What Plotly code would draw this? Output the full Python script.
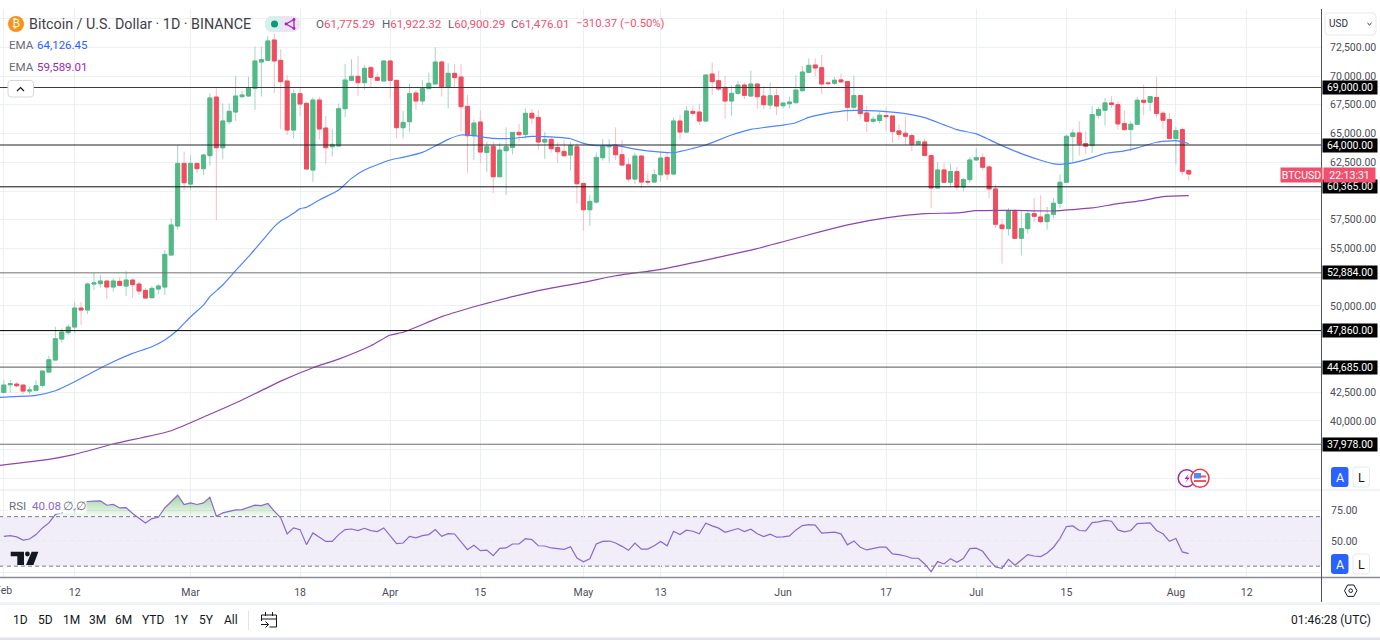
import pandas as pd
import plotly.graph_objects as go

W, H = 1380, 640
FONT = "Roboto, Arial, sans-serif"
GRID = "#eaf0f4"

start_date = "2024-02-01"
opens = [
 42484,43151,43209,43122,42600,42658,43093,44253,45297,47124,47675,48168,49821,49647,51909,51938,52170,51648,52141,51735,52257,51909,51358,50720,51474,51648,54432,56950,62400,
 60600,62400,61940,63070,68170,63760,66027,66868,68202,68260,68927,71218,71363,73132,71363,69565,65302,68463,67622,61822,67912,65476,63852,63910,67158,69623,69971,69420,70725,69884,69565,
 71305,69623,65505,66027,68521,67825,68898,69304,71218,69043,70232,69911,67359,64807,65996,63357,63879,61240,63502,63792,65097,64923,66750,66402,64256,64488,63792,63444,63125,63850,
 60660,58369,59036,62893,63850,63995,63154,62284,61037,63038,60834,60776,61414,62922,61472,66083,65126,66924,66866,66083,70172,69592,69012,67823,68490,69215,68258,69302,68258,67475,68287,
 67417,67591,67678,68722,70317,70955,70723,69400,69371,69661,69516,67283,68298,66790,66065,66123,66558,66529,65224,65021,64818,64064,64267,63078,60265,61831,60758,61686,60352,60990,
 62701,62904,62092,60178,57046,56727,58293,55886,56727,58032,57742,57336,57974,58931,60758,64731,65050,64122,63948,66587,67022,67660,67515,65862,65340,65804,67892,67718,68124,66761,66210,
 64557,65340,61775.29]
highs = [
 43557,43557,43412,43200,43000,43557,44340,45674,48197,48052,48429,50343,50343,52025,52895,52692,52170,52402,52489,53069,52373,52100,51590,51735,51909,54867,57622,64000,63420,
 63100,62400,63230,68490,68930,67620,67622,70000,68700,69942,72552,72552,73480,73712,72320,70087,68840,68927,67767,68144,68202,66520,65360,67622,71044,71450,71740,70957,70899,70290,71305,
 71305,69623,66984,69304,68782,69652,70290,72494,71334,71102,71044,71042,68345,66228,67040,64285,64285,64198,65532,65097,65822,67185,67127,67040,65155,64662,64285,64430,64285,64140,
 60660,59645,63328,64517,64517,65532,64430,62835,63328,63038,61530,61878,63415,63328,66373,66605,67388,67417,67620,70085,71158,70462,69998,69128,69592,69418,70462,69418,69128,69418,68925,
 67680,68200,70085,70868,71535,71535,71825,69540,69922,70212,69516,70038,68385,67428,66500,66848,67225,66529,65775,66442,64992,64470,64528,63078,62498,62440,62382,62092,61135,62962,
 63745,63252,62295,60555,57568,58525,58438,58235,58235,59395,59627,58612,59395,61425,64905,65398,66065,65195,67370,67312,68095,68240,67805,67022,66065,68182,69255,68211,69922,66964,66790,
 65572,65514,61922.32]
lows = [
 42397,42455,42890,42339,42339,42600,42890,44253,45297,46805,47530,47617,48342,49299,51387,51590,50604,51242,51793,50865,50720,50952,50633,50633,51040,50952,54432,56600,60080,
 60080,61530,61390,62200,57470,62780,65800,66085,68100,68200,67042,68202,71363,68492,65360,64867,64577,66520,61909,60807,64490,62315,62982,63910,66404,69600,68260,68840,69014,69560,69565,
 68028,64577,64577,65157,67042,67477,68840,69304,68202,67187,69014,65155,61588,62690,62400,61675,59790,61180,59645,63183,64285,64575,65793,63560,62777,63328,62458,63000,61762,58920,
 56542,56977,58920,62632,62500,62690,62168,60805,60602,60225,60515,60740,60805,60950,61385,64488,65060,66518,65735,66025,68345,68722,66315,66547,68345,67997,68200,67127,67098,67098,66605,
 67185,67185,67620,68640,70230,69998,68432,69200,69226,69400,66065,67138,66297,65108,65862,65862,65195,64180,64470,64035,63455,64035,63078,58525,60265,60700,60352,60062,59975,60700,
 62640,61802,59395,56785,53682,56118,55886,54407,56292,57278,57162,56640,57626,58496,60700,62440,63078,63252,63310,66300,65688,67225,65340,65195,63455,65746,66587,66935,66355,65340,64528,
 62295,61338,60900.29]
closes = [
 43122,43238,43064,42600,42687,43064,44340,45326,47153,47733,48168,49821,49647,51909,51996,52170,51648,52170,51793,52257,51851,51300,50691,51532,51735,54490,57042,62400,60720,
 62400,61940,63130,68090,63760,66090,66926,68260,68347,68956,71305,71421,73045,71305,69507,65302,68463,67564,61909,67912,65389,63765,64055,67158,69652,69971,69420,70667,69884,69623,71305,
 69623,65505,65969,68463,67825,68898,69362,71218,69072,70232,69855,67330,64807,65909,63386,63850,61240,63560,63850,65097,64894,66750,66344,64256,64488,63676,63415,63067,63937,60631,
 58369,59094,62922,63908,63937,63154,62255,61037,63038,60776,60776,61414,62864,61472,66083,65126,66953,66750,66083,70085,69505,68867,67823,68490,69215,68316,69302,68200,67504,68287,67388,
 67649,67736,68780,70346,70926,70694,69302,69342,69632,69487,67283,68298,66732,66065,66239,66587,66471,65166,64934,64760,64064,64296,63078,60265,61831,60758,61686,60352,60990,62701,
 62904,62063,60178,57104,56727,58264,55886,56727,58032,57800,57336,57945,58931,60758,64760,65050,64093,63890,66645,67080,67660,67515,65833,65340,65804,67892,67718,68211,66732,66152,64557,
 65253,61715,61476.01]

ema50_dates = ["2024-01-31","2024-02-01","2024-02-06","2024-02-09","2024-02-12","2024-02-15","2024-02-18","2024-02-21","2024-02-24","2024-02-26","2024-02-28",
 "2024-03-01","2024-03-03","2024-03-04","2024-03-06","2024-03-08","2024-03-10","2024-03-12","2024-03-14","2024-03-15","2024-03-17","2024-03-18","2024-03-19","2024-03-21","2024-03-24","2024-03-26","2024-03-28",
 "2024-04-01","2024-04-03","2024-04-06","2024-04-08","2024-04-10","2024-04-12","2024-04-14","2024-04-17","2024-04-20","2024-04-23","2024-04-27","2024-04-29",
 "2024-05-01","2024-05-03","2024-05-06","2024-05-09","2024-05-13","2024-05-15","2024-05-18","2024-05-20","2024-05-24","2024-05-27",
 "2024-06-01","2024-06-03","2024-06-05","2024-06-08","2024-06-11","2024-06-14","2024-06-17","2024-06-20","2024-06-23","2024-06-26","2024-06-28",
 "2024-07-01","2024-07-03","2024-07-05","2024-07-08","2024-07-11","2024-07-13","2024-07-15","2024-07-18","2024-07-21","2024-07-24","2024-07-26","2024-07-29",
 "2024-08-01","2024-08-03"]
ema50_values = [42049,42078,42223,42629,43412,44311,45152,45877,46457,47037,47907,
 49067,50082,50807,51822,53069,54287,55592,56897,57390,58057,58463,58579,59217,60082,61097,61822,
 62692,62924,63359,63910,64490,64867,64807,64575,64575,64749,64662,64546,
 64140,63937,63966,63647,63386,63328,63705,63995,64865,65358,
 65735,65938,66402,66770,66993,66993,66906,66732,66384,65746,65340,
 64963,64470,63948,63252,62672,62353,62353,62730,63252,63484,63745,64238,
 64383,64126.45]

ema200_dates = ["2024-01-31","2024-02-08","2024-02-12","2024-02-18","2024-02-27","2024-03-04","2024-03-09","2024-03-15","2024-03-20","2024-03-24","2024-03-29",
 "2024-04-01","2024-04-03","2024-04-09","2024-04-15","2024-04-20","2024-04-25","2024-05-01","2024-05-06","2024-05-13","2024-05-20","2024-05-27",
 "2024-06-01","2024-06-07","2024-06-12","2024-06-17","2024-06-23","2024-06-28","2024-07-01","2024-07-06","2024-07-13","2024-07-16","2024-07-19","2024-07-23","2024-07-27","2024-07-30","2024-08-03"]
ema200_values = [36115,36665,37100,38000,39155,40580,41825,43470,44630,45384,46544,
 47472,47712,49070,50087,50810,51450,52060,52630,53190,53990,54860,
 55585,56495,57162,57655,58032,58090,58293,58322,58264,58380,58525,58902,59192,59511,59589.01]

rsi_values = [54.1,54.6,53.6,51.1,51.9,55.5,60.9,64.9,71.7,73,74.4,75.7,80.6,82.2,82.5,82.7,79.2,79.8,77,77.3,72.5,69,64.9,68.4,69.5,77,82.5,87.3,79.8,
 81.1,79.8,81.1,85.7,70.3,73,74.4,75.4,75.7,77.3,79.2,78.9,80.6,74.4,69,56,60.9,59.5,47.4,56.8,53.6,50,50,55.5,59.5,60,58.7,60.6,58.7,57.9,60.9,
 54.9,48.2,48.7,54.1,52.8,54.6,55.5,59.5,54.1,56.3,56,49.5,43.3,46.8,42.5,43,38.4,44.4,44.7,47.9,47.9,52.2,51.4,46.5,46.3,44.7,44.1,43.6,45.7,36.6,
 33.6,36,47.9,50,50.3,48.7,46,42.8,48.7,43.8,43.8,46.5,50,46.5,58.2,55.5,59,58.2,56.1,64.7,62.5,60.7,57.4,59,60.4,58,59.8,56.1,53.9,55.8,53.4,53.6,54.4,
 59.3,62.8,63.6,63.1,56.6,56.9,57.4,56.1,47.2,50.4,45.3,43.1,43.9,45.3,45.3,39.9,39.3,38.2,36.4,36.4,31.8,25.6,33.7,31.8,36.1,33.1,36.1,44.2,
 44.5,42,35,29.3,28.3,35.5,30.7,34.7,39.3,38.2,37.7,40.7,45.3,52.3,62,62.5,58.8,58.5,65.2,65.8,66.9,66.3,59.3,57.7,58.8,64.4,64.4,65,58.8,56.1,50.1,
 52.3,41.5,40.08]

levels = [69000, 64000, 60365, 52884, 47860, 44685, 37978]
level_labels = ["69,000.00", "64,000.00", "60,365.00", "52,884.00", "47,860.00", "44,685.00", "37,978.00"]
level_colors = ["#3c3c3c", "#222222", "#111111", "#707070", "#000000", "#555555", "#707070"]

price_ticks = [35000, 37500, 40000, 42500, 45000, 47500, 50000, 52500, 55000, 57500, 60000, 62500, 65000, 67500, 70000, 72500, 75000]
price_tick_text = ["", "", "40,000.00", "42,500.00", "", "", "50,000.00", "", "55,000.00", "57,500.00", "", "62,500.00", "65,000.00", "67,500.00", "70,000.00", "72,500.00", ""]
rsi_ticks = [25, 50, 75]
rsi_tick_text = ["", "50.00", "75.00"]
date_ticks = ["2024-02-01","2024-02-12","2024-03-01","2024-03-18","2024-04-01","2024-04-15","2024-05-01","2024-05-13","2024-06-01","2024-06-17","2024-07-01","2024-07-15","2024-08-01","2024-08-12"]
date_tick_text = ["","12","Mar","18","Apr","15","May","13","Jun","17","Jul","15","Aug","12"]

assert len(opens) == len(highs) == len(lows) == len(closes) == len(rsi_values) == 185
dates = pd.date_range(start_date, periods=len(opens), freq="D")

def px(x): return x / W
def py(y): return 1 - y / H

shapes, annos = [], []

def rect(x0, y0, x1, y1, fill="rgba(0,0,0,0)", line=None, lw=1):
    shapes.append(dict(type="rect", xref="paper", yref="paper", x0=px(x0), x1=px(x1), y0=py(y0), y1=py(y1),
                       fillcolor=fill, line=dict(color=line or "rgba(0,0,0,0)", width=lw if line else 0), layer="above"))

def path(points, fill=None, line=None, lw=1, close=False):
    d = "M" + " L".join(f"{px(a):.5f},{py(b):.5f}" for a, b in points) + (" Z" if close else "")
    shapes.append(dict(type="path", xref="paper", yref="paper", path=d, fillcolor=fill or "rgba(0,0,0,0)",
                       line=dict(color=line or "rgba(0,0,0,0)", width=lw if line else 0), layer="above"))

def rrect(x0, y0, x1, y1, r, fill=None, line=None, lw=1):
    a0, b0, a1, b1 = px(x0), py(y0), px(x1), py(y1)
    rx, ry = r / W, r / H
    d = (f"M{a0+rx:.5f},{b0:.5f} L{a1-rx:.5f},{b0:.5f} Q{a1:.5f},{b0:.5f} {a1:.5f},{b0-ry:.5f} "
         f"L{a1:.5f},{b1+ry:.5f} Q{a1:.5f},{b1:.5f} {a1-rx:.5f},{b1:.5f} L{a0+rx:.5f},{b1:.5f} "
         f"Q{a0:.5f},{b1:.5f} {a0:.5f},{b1+ry:.5f} L{a0:.5f},{b0-ry:.5f} Q{a0:.5f},{b0:.5f} {a0+rx:.5f},{b0:.5f} Z")
    shapes.append(dict(type="path", xref="paper", yref="paper", path=d, fillcolor=fill or "rgba(0,0,0,0)",
                       line=dict(color=line or "rgba(0,0,0,0)", width=lw if line else 0), layer="above"))

def circle(cx, cy, r, fill="rgba(0,0,0,0)", line=None, lw=1):
    shapes.append(dict(type="circle", xref="paper", yref="paper", x0=px(cx - r), x1=px(cx + r), y0=py(cy + r), y1=py(cy - r),
                       fillcolor=fill, line=dict(color=line or "rgba(0,0,0,0)", width=lw if line else 0), layer="above"))

def txt(x, y, s, size=11, color="#131722", anchor="left", **kw):
    annos.append(dict(xref="paper", yref="paper", x=px(x), y=py(y), text=s, showarrow=False, xanchor=anchor, yanchor="middle",
                      font=dict(family=FONT, size=size, color=color), borderpad=0, **kw))

fig = go.Figure()
# pale wicks underneath, solid bodies on top
fig.add_trace(go.Candlestick(x=dates, open=opens, high=highs, low=lows, close=closes, yaxis="y", xaxis="x",
    increasing=dict(line=dict(color="#a5d3c4", width=1), fillcolor="#53b987"),
    decreasing=dict(line=dict(color="#f7bcc3", width=1), fillcolor="#ee4e5f"),
    whiskerwidth=0, showlegend=False))
body_hi = [max(a, b) for a, b in zip(opens, closes)]
body_lo = [min(a, b) for a, b in zip(opens, closes)]
fig.add_trace(go.Candlestick(x=dates, open=opens, high=body_hi, low=body_lo, close=closes, yaxis="y", xaxis="x",
    increasing=dict(line=dict(color="#53b987", width=1), fillcolor="#53b987"),
    decreasing=dict(line=dict(color="#ee4e5f", width=1), fillcolor="#ee4e5f"),
    whiskerwidth=0, showlegend=False, hoverinfo="skip"))
fig.add_trace(go.Scatter(x=ema50_dates, y=ema50_values, mode="lines", line=dict(color="#4d84ff", width=1.2, shape="spline", smoothing=0.5), yaxis="y", xaxis="x", showlegend=False))
fig.add_trace(go.Scatter(x=ema200_dates, y=ema200_values, mode="lines", line=dict(color="#8e44ad", width=1.2, shape="spline", smoothing=0.5), yaxis="y", xaxis="x", showlegend=False))

# RSI pane
rsi_over = [max(v, 70) for v in rsi_values]
fig.add_trace(go.Scatter(x=dates, y=[70] * len(dates), mode="lines", line=dict(width=0), yaxis="y2", xaxis="x", showlegend=False, hoverinfo="skip"))
fig.add_trace(go.Scatter(x=dates, y=rsi_over, mode="lines", line=dict(width=0), fill="tonexty", yaxis="y2", xaxis="x", showlegend=False, hoverinfo="skip",
    fillgradient=dict(type="vertical", colorscale=[[0, "rgba(76,175,80,0.06)"], [1, "rgba(76,175,80,0.55)"]], start=70, stop=88)))
fig.add_trace(go.Scatter(x=dates, y=rsi_values, mode="lines", line=dict(color="#8a68cc", width=1.2), yaxis="y2", xaxis="x", showlegend=False))

# RSI band and reference lines
shapes.append(dict(type="rect", xref="x domain", yref="y2", x0=0, x1=1, y0=30, y1=70, fillcolor="rgba(126,87,194,0.10)", line=dict(width=0), layer="below"))
for val, col in zip([70, 50, 30], ["#787b86", "#bcbdc4", "#787b86"]):
    shapes.append(dict(type="line", xref="x domain", yref="y2", x0=0, x1=1, y0=val, y1=val, line=dict(color=col, width=1, dash="4px,3px"), layer="below"))

# horizontal levels
for lvl, lab, col in zip(levels, level_labels, level_colors):
    shapes.append(dict(type="line", xref="x domain", yref="y", x0=0, x1=1, y0=lvl, y1=lvl, line=dict(color=col, width=1), layer="above"))
    annos.append(dict(xref="paper", yref="y", x=px(1322), y=lvl, text=lab, showarrow=False, xanchor="left", yanchor="middle",
                      width=54, height=13, bgcolor="#000000", borderpad=0, align="center",
                      font=dict(family=FONT, size=10.5, color="#ffffff")))

# frame lines
rect(0, 0, W, 9, fill="#ffffff")
path([(0, 490), (W, 490)], line="#e4e7ee", lw=1)
path([(0, 577.5), (W, 577.5)], line="#8a8d96", lw=1.5)
path([(1321.5, 9), (1321.5, 603)], line="#50535e", lw=1)
rect(0, 602, W, 605, fill="#f0f3fa")
rect(0, 637.5, W, 640, fill="#e0e3eb")

# header
circle(16, 24, 8, fill="#f7931a")
txt(16, 24, "₿", size=11, color="#ffffff", anchor="center")
txt(28, 24, "Bitcoin / U.S. Dollar · 1D · BINANCE", size=14.3, color="#3f4148")
rrect(265, 16, 300, 32, 8, fill="#f0e2f4")
rrect(265, 16, 283, 32, 8, fill="#d9efec")
circle(274.5, 24, 3.5, fill="#089981")
path([(294, 19.5), (286, 24), (294, 28.5), (294, 19.5)], line="#9c27b0", lw=1.3)
circle(294, 19.5, 1.4, fill="#9c27b0"); circle(286, 24, 1.4, fill="#9c27b0"); circle(294, 28.5, 1.4, fill="#9c27b0")
R = "#f0506e"
G = "#5d606b"
for x, lab, val in [(315, "O", "61,775.29"), (381, "H", "61,922.32"), (447, "L", "60,900.29"), (510, "C", "61,476.01")]:
    txt(x, 24, f'<span style="color:{G}">{lab}</span>{val}', size=11.6, color=R)
txt(575, 24, "−310.37 (−0.50%)", size=11.3, color=R)
txt(8, 45, "EMA", size=11.6, color="#6a6d78"); txt(36, 45, "64,126.45", size=11.5, color="#2962ff")
txt(8, 67, "EMA", size=11.6, color="#6a6d78"); txt(36, 67, "59,589.01", size=11.5, color="#9c27b0")
rrect(8, 80.5, 33.5, 97, 3, fill="#ffffff", line="#d6d8df")
path([(17, 91), (20.5, 87.5), (24, 91)], line="#131722", lw=1.2)

# RSI legend
txt(8, 506, "RSI", size=11.6, color="#6a6d78", bgcolor="#ffffff")
txt(31, 506, "40.08", size=11.6, color="#8a68cc", bgcolor="#ffffff")
txt(68, 506, "∅", size=12, color="#6a6d78", anchor="center", bgcolor="#ffffff")
txt(81, 506, "∅", size=12, color="#6a6d78", anchor="center", bgcolor="#ffffff")

# clipped first date label and USD selector
txt(3.8, 590, "Feb", size=10.5, color="#4a4d57", anchor="center")
rrect(1325, 13, 1376, 35, 4, fill="#ffffff", line="#e6e8ee")
txt(1328, 24, "USD", size=10, color="#2a2e39")
path([(1367.5, 23), (1369.5, 25), (1371.5, 23)], line="#131722", lw=1)

# current price tag
annos.append(dict(xref="paper", yref="y", x=px(1280), y=61476 - 80, text="BTCUSD", showarrow=False, xanchor="left", yanchor="middle",
                  width=41, height=14, bgcolor="#f0506e", borderpad=0, font=dict(family=FONT, size=10.5, color="#ffffff")))
annos.append(dict(xref="paper", yref="y", x=px(1323), y=61476 - 80, text="22:13:31", showarrow=False, xanchor="left", yanchor="middle",
                  width=51, height=14, bgcolor="#f0506e", borderpad=0, font=dict(family=FONT, size=10.5, color="#ffffff")))

# event icons
circle(1186.7, 478.3, 8.5, fill="#ffffff", line="#9c27b0", lw=1.5)
path([(1189, 473.5), (1184.5, 479), (1187.5, 479), (1185, 483), (1190, 477.5), (1187, 477.5)], fill="#9c27b0", close=True)
circle(1200, 478.3, 9, fill="#ffffff", line="#f23645", lw=1.5)
rect(1194, 475.5, 1206, 477.5, fill="#f7525f")
rect(1194, 480, 1206, 482, fill="#f7525f")
rect(1194, 473, 1201, 478.5, fill="#4f8df0")

# scale buttons
for yy in (467, 554):
    rrect(1331, yy, 1348.5, yy + 20, 3, fill="#2962ff")
    txt(1339.7, yy + 10.5, "A", size=12.5, color="#ffffff", anchor="center")
    rrect(1353, yy, 1369.5, yy + 20, 3, fill="#ffffff", line="#e6e8ee")
    txt(1361, yy + 10.5, "L", size=12.5, color="#131722", anchor="center")
path([(1344.5, 590.7), (1347.6, 585), (1353.8, 585), (1357, 590.7), (1353.8, 596.4), (1347.6, 596.4)], line="#131722", lw=1, close=True)
circle(1350.7, 590.7, 1.8, line="#131722", lw=1)

# logo
path([(10.7, 551.7), (24, 551.7), (24, 565), (17.3, 565), (17.3, 556.3), (10.7, 556.3)], fill="#131722", close=True)
circle(27.4, 554, 2.4, fill="#131722")
path([(31.7, 551.7), (38.4, 551.7), (33.4, 565), (26, 565)], fill="#131722", close=True)

# bottom toolbar
for x, lab in zip([20, 45, 71, 97, 123, 153, 181.5, 206, 231], ["1D", "5D", "1M", "3M", "6M", "YTD", "1Y", "5Y", "All"]):
    txt(x, 620, lab, size=12, color="#131722", anchor="center")
path([(248.5, 611), (248.5, 630)], line="#e0e3eb", lw=1)
path([(261.5, 621), (261.5, 615), (276.5, 615), (276.5, 627), (269.5, 627)], line="#131722", lw=1)
path([(261.5, 619), (276.5, 619)], line="#131722", lw=1)
path([(265.5, 612), (265.5, 616)], line="#131722", lw=1); path([(272.5, 612), (272.5, 616)], line="#131722", lw=1)
path([(261, 624.5), (268.5, 624.5)], line="#131722", lw=1); path([(265.5, 621.5), (268.5, 624.5), (265.5, 627.5)], line="#131722", lw=1)
txt(1372, 620, "01:46:28 (UTC)", size=12, color="#131722", anchor="right")

d0 = pd.Timestamp(start_date)
x_left = d0 + pd.Timedelta(days=(0 - 3.8) / 6.44)
x_right = d0 + pd.Timedelta(days=(1321 - 3.8) / 6.44)
PPD = 86.96

axis_font = dict(family=FONT, size=10.5, color="#4a4d57")
fig.update_layout(
    width=W, height=H, autosize=False, margin=dict(l=0, r=0, t=0, b=0),
    paper_bgcolor="#ffffff", plot_bgcolor="#ffffff", showlegend=False, boxgap=0.12, boxmode="overlay",
    font=dict(family=FONT),
    xaxis=dict(type="date", domain=[0, 1321 / W], range=[x_left, x_right], anchor="y2", rangeslider=dict(visible=False),
               tickmode="array", tickvals=date_ticks, ticktext=date_tick_text, showgrid=True, gridcolor=GRID, gridwidth=1,
               ticks="outside", ticklen=5, tickcolor="rgba(0,0,0,0)", showline=False, zeroline=False, tickfont=axis_font, tickangle=0),
    yaxis=dict(domain=[py(490), py(9)], range=[70000 - (490 - 76) * PPD, 70000 + (76 - 9) * PPD], side="right", anchor="x",
               tickmode="array", tickvals=price_ticks, ticktext=price_tick_text, showgrid=True, gridcolor=GRID, gridwidth=1,
               ticks="outside", ticklen=6, tickcolor="rgba(0,0,0,0)", showline=False, zeroline=False, tickfont=axis_font),
    yaxis2=dict(domain=[py(577.5), py(490)], range=[20.85, 91.5], side="right", anchor="x",
                tickmode="array", tickvals=rsi_ticks, ticktext=rsi_tick_text, showgrid=True, gridcolor=GRID, gridwidth=1,
                ticks="outside", ticklen=7, tickcolor="rgba(0,0,0,0)", showline=False, zeroline=False, tickfont=axis_font),
    shapes=shapes, annotations=annos,
)

fig.write_html("out.html", config=dict(displayModeBar=False), post_script="document.body.style.margin='0';document.documentElement.style.overflow='hidden';")
